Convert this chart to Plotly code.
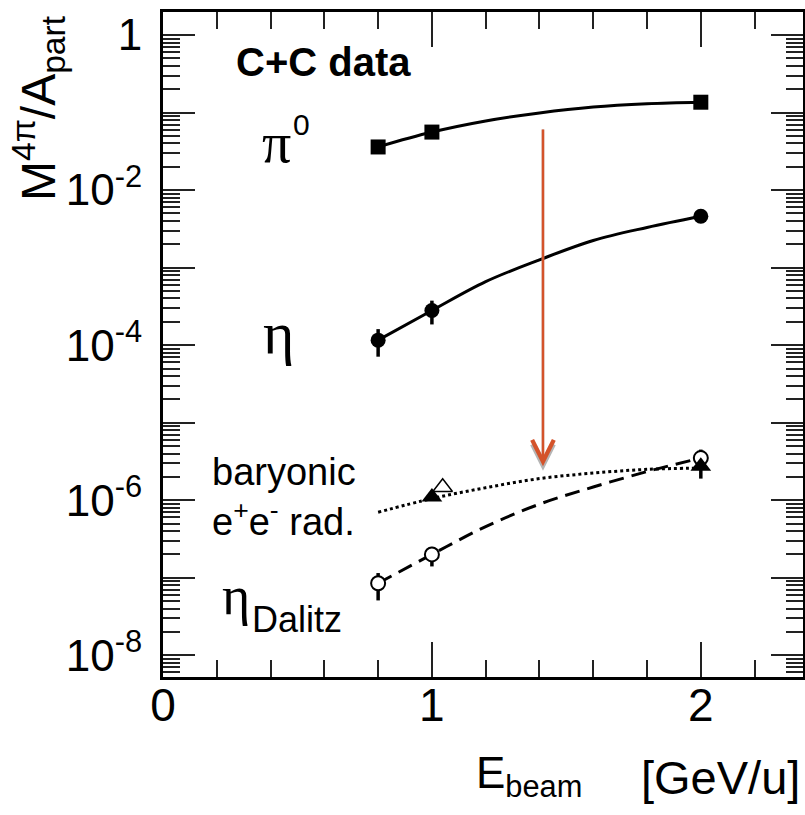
import math
import plotly.graph_objects as go

# ---------------- data ----------------
beam_energy = [0.8, 1.0, 2.0]

pi0_yield = [0.036, 0.056, 0.136]
eta_yield = [1.16e-4, 2.8e-4, 4.6e-3]
eta_err = [4.5e-5, 0.95e-4, 0.0]

dalitz_yield = [8.5e-8, 2.0e-7, 3.5e-6]
dalitz_err_plus = [3.0e-8, 0.5e-7, 1.0e-6]
dalitz_err_minus = [3.4e-8, 0.6e-7, 1.6e-6]

baryonic_x = [1.0, 2.0]
baryonic_yield = [1.1e-6, 2.75e-6]
baryonic_open_x = [1.04]
baryonic_open_yield = [1.47e-6]

# fitted curves
fit_x = [0.8, 1.0, 1.2, 1.4, 1.6, 1.8, 2.0]
pi0_fit = [0.036, 0.056, 0.078, 0.099, 0.118, 0.130, 0.136]
eta_fit = [1.16e-4, 2.8e-4, 6.6e-4, 1.26e-3, 2.24e-3, 3.3e-3, 4.6e-3]
baryonic_fit = [7.0e-7, 1.05e-6, 1.45e-6, 1.9e-6, 2.24e-6, 2.5e-6, 2.6e-6]
dalitz_fit_x = [0.8, 1.0, 1.2, 1.4, 1.6, 1.8, 1.97]
dalitz_fit = [8.5e-8, 2.0e-7, 4.57e-7, 8.9e-7, 1.48e-6, 2.34e-6, 3.3e-6]

arrow_x = 1.413
arrow_top = 0.063
arrow_tip = 2.75e-6

y_tick_vals = [1e-8, 1e-7, 1e-6, 1e-5, 1e-4, 1e-3, 1e-2, 1e-1, 1]
y_tick_text = ["10<sup>-8</sup>", "", "10<sup>-6</sup>", "", "10<sup>-4</sup>", "",
               "10<sup>-2</sup>", "", "1"]
x_tick_vals = [0, 1, 2]
x_tick_text = ["0", "1", "2"]

# ---------------- layout geometry ----------------
W, H = 805, 815
L, R, T, B = 163, 2, 12, 138
PW, PH = W - L - R, H - T - B

def px(x):
    return (x - L) / PW

def py(y):
    return (H - B - y) / PH

SANS = "Liberation Sans, Arial, sans-serif"
SERIF = "Liberation Serif, Times New Roman, serif"

fig = go.Figure()

line_black = dict(color="black", width=3)

fig.add_trace(go.Scatter(x=fit_x, y=pi0_fit, mode="lines", line=dict(line_black, shape="spline"),
                         hoverinfo="skip"))
fig.add_trace(go.Scatter(x=fit_x, y=eta_fit, mode="lines", line=dict(line_black, shape="spline"),
                         hoverinfo="skip"))
fig.add_trace(go.Scatter(x=fit_x, y=baryonic_fit, mode="lines",
                         line=dict(color="black", width=3, dash="3px,3px", shape="spline"),
                         hoverinfo="skip"))
fig.add_trace(go.Scatter(x=dalitz_fit_x, y=dalitz_fit, mode="lines",
                         line=dict(color="black", width=3, dash="15px,8px", shape="spline"),
                         hoverinfo="skip"))

fig.add_trace(go.Scatter(x=beam_energy, y=pi0_yield, mode="markers",
                         marker=dict(symbol="square", size=15, color="black")))
fig.add_trace(go.Scatter(x=beam_energy, y=eta_yield, mode="markers",
                         marker=dict(symbol="circle", size=15, color="black"),
                         error_y=dict(type="data", array=eta_err, color="black",
                                      thickness=3.5, width=0)))
fig.add_trace(go.Scatter(x=beam_energy, y=dalitz_yield, mode="markers",
                         marker=dict(symbol="circle", size=14, color="white",
                                     line=dict(color="black", width=2)),
                         error_y=dict(type="data", symmetric=False, array=dalitz_err_plus,
                                      arrayminus=dalitz_err_minus, color="black",
                                      thickness=3.5, width=0)))
fig.add_trace(go.Scatter(x=baryonic_open_x, y=baryonic_open_yield, mode="markers",
                         marker=dict(symbol="triangle-up", size=17, color="white",
                                     line=dict(color="black", width=1.5))))
fig.add_trace(go.Scatter(x=baryonic_x, y=baryonic_yield, mode="markers",
                         marker=dict(symbol="triangle-up", size=18, color="black")))

ann = []

def label(text, x, y, size, family=SANS, xanchor="left", **kw):
    ann.append(dict(text=text, x=px(x), y=py(y), xref="paper", yref="paper",
                    xanchor=xanchor, yanchor="middle", showarrow=False,
                    font=dict(size=size, family=family, color="black"), **kw))

label("<b>C+C data</b>", 234, 62, 40)
label("π", 276, 143, 58, family=SERIF, xanchor="center")
label("0", 301, 125, 30, xanchor="center")
label("η", 278, 333, 60, family=SERIF, xanchor="center")
label("baryonic", 210, 472, 38)
label("e<sup>+</sup>e<sup>-</sup> rad.", 210, 519, 38)
label("η", 236, 596, 54, family=SERIF, xanchor="center")
label("Dalitz", 250, 619, 36)
label("[GeV/u]", 802, 777, 47, xanchor="right")
label("E<sub>beam</sub>", 474, 776, 44)
label("M<sup>4π</sup>/A<sub>part</sub>", 38, 108, 48, xanchor="center", textangle=-90)

# arrow (gray shadow head + orange arrow)
ann.append(dict(x=arrow_x, y=math.log10(arrow_tip) - 0.06, ax=arrow_x, ay=math.log10(arrow_top),
                xref="x", yref="y", axref="x", ayref="y", text="", showarrow=True,
                arrowhead=5, arrowsize=1.7, arrowwidth=2.5, arrowcolor="#b5b5b5"))
ann.append(dict(x=arrow_x, y=math.log10(arrow_tip), ax=arrow_x, ay=math.log10(arrow_top),
                xref="x", yref="y", axref="x", ayref="y", text="", showarrow=True,
                arrowhead=5, arrowsize=1.7, arrowwidth=2.5, arrowcolor="#d4532b"))

fig.update_layout(
    width=W, height=H, margin=dict(l=L, r=R, t=T, b=B, autoexpand=False),
    paper_bgcolor="white", plot_bgcolor="white", showlegend=False,
    annotations=ann,
    xaxis=dict(range=[0, 2.38], tickmode="array", tickvals=x_tick_vals, ticktext=x_tick_text,
               ticks="inside", ticklen=35, tickwidth=2, tickcolor="#222",
               minor=dict(dtick=0.2, tick0=0, ticks="inside", ticklen=17, tickwidth=2,
                          tickcolor="#222", showgrid=False),
               showline=True, linewidth=3, linecolor="black", mirror="ticks",
               showgrid=False, zeroline=False, ticklabelstandoff=-14,
               tickfont=dict(size=46, family=SANS, color="black")),
    yaxis=dict(type="log", range=[-8.28, 0.297], tickmode="array", tickvals=y_tick_vals,
               ticktext=y_tick_text, ticks="inside", ticklen=32, tickwidth=2, tickcolor="#222",
               minor=dict(dtick="D1", ticks="inside", ticklen=17, tickwidth=2,
                          tickcolor="#222", showgrid=False),
               showline=True, linewidth=3, linecolor="black", mirror="ticks",
               showgrid=False, zeroline=False, ticklabelstandoff=9,
               tickfont=dict(size=44, family=SANS, color="black")),
)

fig.write_html("out.html")
